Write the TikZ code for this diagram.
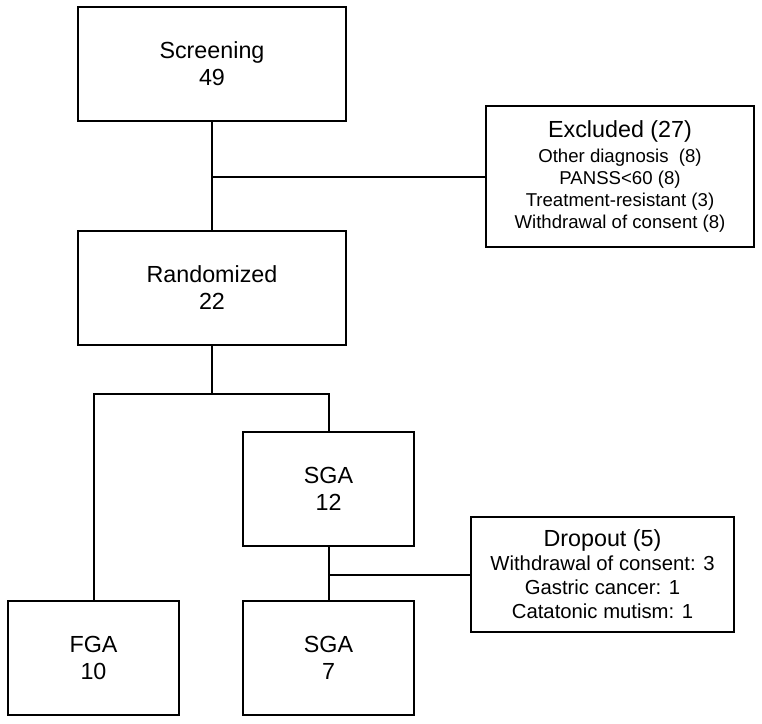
\documentclass[tikz,border=0pt]{standalone}
\usepackage{fontspec}
\setmainfont{Liberation Sans}
\newcommand{\headfont}{\fontsize{23.3}{27}\selectfont}
\begin{document}
\begin{tikzpicture}[x=1pt,y=-1pt,line width=2pt,
        box/.style={draw,align=center,inner sep=0pt,font=\headfont,minimum height=114pt},
        wide/.style={box,minimum width=268pt},
        arm/.style={box,minimum width=171pt}]
        \useasboundingbox (0,0) rectangle (762,723);
        \node[wide] (screen) at (212,63.5) {Screening\\49};
        \node[wide] (rand) at (212,288) {Randomized\\22};
        \node[wide,minimum height=141pt,font=\fontsize{18.6}{22}\selectfont] (excl) at (620,176.5)
            {{\headfont Excluded (27)}\\[3pt]Other diagnosis\ \ (8)\\PANSS<60 (8)\\
             Treatment-resistant (3)\\Withdrawal of consent (8)};
        \node[arm] (fga) at (93.5,658) {FGA\\10};
        \node[arm] (sga12) at (328.5,489) {SGA\\12};
        \node[arm] (sga7) at (328.5,658) {SGA\\7};
        \node[box,minimum width=263pt,minimum height=115pt,font=\fontsize{20.3}{24}\selectfont] (drop) at (602.5,574.5)
            {{\headfont Dropout (5)}\\Withdrawal of consent: 3\\Gastric cancer: 1\\Catatonic mutism: 1};
        \coordinate (split) at (212,394);

        \draw (screen.south) -- (rand.north);
        \draw (screen.south |- excl.west) -- (excl.west);
        \draw (rand.south) -- (split);
        \draw (fga.north) |- (split) -| (sga12.north);
        \draw (sga12.south) -- (sga7.north);
        \draw (sga12.south |- drop.west) -- (drop.west);
    \end{tikzpicture}
\end{document}
